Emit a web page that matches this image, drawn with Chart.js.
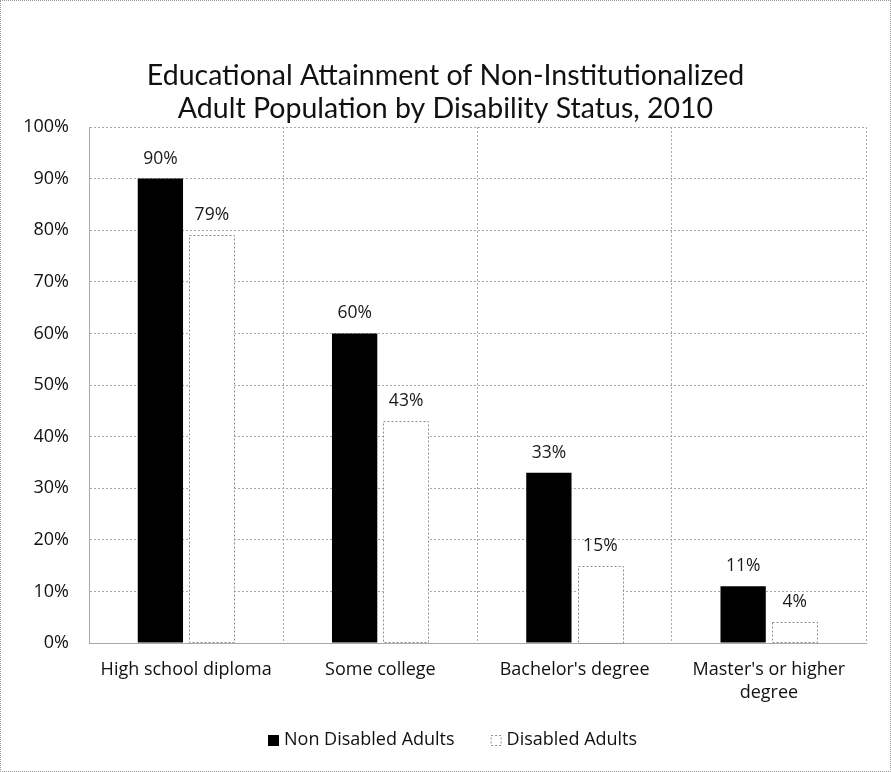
<!DOCTYPE html>
<html>
<head>
<meta charset="utf-8">
<script src="https://cdn.jsdelivr.net/npm/chart.js@4/dist/chart.umd.min.js"></script>
<style>
  html, body { margin: 0; padding: 0; background: #fff; }
  #wrap { position: relative; width: 891px; height: 772px; box-sizing: border-box; border: 1px dotted #9a9a9a; }
  canvas { display: block; }
</style>
</head>
<body>
<div id="wrap"><canvas id="c" width="889" height="770"></canvas></div>
<script>
// Educational attainment (percent of adults) by disability status, 2010
const titleLines = ['Educational Attainment of Non-Institutionalized', 'Adult Population by Disability Status, 2010'];
const categories = [
  'High school diploma',
  'Some college',
  "Bachelor's degree",
  ["Master's or higher", 'degree']
];
const seriesNames = ['Non Disabled Adults', 'Disabled Adults'];
const nonDisabled = [90, 60, 33, 11];
const disabled = [79, 43, 15, 4];
const yTicks = [0, 10, 20, 30, 40, 50, 60, 70, 80, 90, 100];

const TITLE_FONT = 'Lato, "Open Sans", sans-serif';
const FONT = '"Open Sans", Lato, sans-serif';
const GRID = '#a8a8a8';
const HOLLOW_EDGE = '#8c8c8c';

// Two-line heading centred across the whole canvas
const heading = {
  id: 'heading',
  afterDraw(chart) {
    const ctx = chart.ctx;
    ctx.save();
    ctx.fillStyle = '#111';
    ctx.font = '28.5px ' + TITLE_FONT;
    ctx.textAlign = 'center';
    ctx.textBaseline = 'middle';
    titleLines.forEach((t, i) => ctx.fillText(t, chart.width / 2, 75 + i * 33));
    ctx.restore();
  }
};

// Legend row under the axis labels, with wide spacing between the two entries
const legendRow = {
  id: 'legendRow',
  afterDraw(chart) {
    const ctx = chart.ctx;
    const box = 11, gap = 5, spacing = 36, cy = 739;
    ctx.save();
    ctx.font = '18px ' + FONT;
    ctx.textBaseline = 'middle';
    const widths = chart.data.datasets.map(ds => ctx.measureText(ds.label).width);
    const total = widths.reduce((a, w) => a + box + gap + w, 0) + spacing;
    let x = Math.round(452 - total / 2);
    chart.data.datasets.forEach((ds, i) => {
      const top = Math.round(cy - box / 2);
      if (i === 0) {
        ctx.fillStyle = ds.backgroundColor;
        ctx.fillRect(x, top, box, box);
      } else {
        ctx.fillStyle = '#fff';
        ctx.fillRect(x, top, box, box);
        ctx.strokeStyle = HOLLOW_EDGE;
        ctx.lineWidth = 1;
        ctx.setLineDash([2, 2]);
        ctx.strokeRect(x + 0.5, top + 0.5, box - 1, box - 1);
        ctx.setLineDash([]);
      }
      ctx.fillStyle = '#111';
      ctx.fillText(ds.label, x + box + gap, cy);
      x += box + gap + widths[i] + spacing;
    });
    ctx.restore();
  }
};

// Labels each bar with its value, and gives the hollow series a dotted outline
const barDecor = {
  id: 'barDecor',
  afterDatasetsDraw(chart) {
    const ctx = chart.ctx;
    ctx.save();
    const hollow = chart.getDatasetMeta(1);
    ctx.strokeStyle = HOLLOW_EDGE;
    ctx.lineWidth = 1;
    ctx.setLineDash([2, 2]);
    hollow.data.forEach(el => {
      const x = Math.round(el.x - el.width / 2) + 0.5;
      const y = Math.round(el.y) + 0.5;
      ctx.strokeRect(x, y, Math.round(el.width), Math.round(el.base - el.y));
    });
    ctx.setLineDash([]);
    ctx.fillStyle = '#1a1a1a';
    ctx.font = '17.5px ' + FONT;
    ctx.textAlign = 'center';
    ctx.textBaseline = 'middle';
    chart.data.datasets.forEach((ds, i) => {
      chart.getDatasetMeta(i).data.forEach((el, j) => {
        ctx.fillText(ds.data[j] + '%', el.x, el.y - 20);
      });
    });
    ctx.restore();
  }
};

new Chart(document.getElementById('c'), {
  type: 'bar',
  data: {
    labels: categories,
    datasets: [
      {
        label: seriesNames[0],
        data: nonDisabled,
        backgroundColor: '#000000',
        borderWidth: 0,
        categoryPercentage: 0.53,
        barPercentage: 0.88
      },
      {
        label: seriesNames[1],
        data: disabled,
        backgroundColor: '#ffffff',
        borderWidth: 0,
        categoryPercentage: 0.53,
        barPercentage: 0.88
      }
    ]
  },
  options: {
    responsive: false,
    animation: false,
    layout: { padding: { left: 0, right: 24, top: 126, bottom: 50 } },
    plugins: {
      title: { display: false },
      legend: { display: false },
      tooltip: { enabled: false }
    },
    scales: {
      x: {
        grid: { color: GRID, lineWidth: 1, drawTicks: false, offset: true },
        border: { color: GRID, dash: [2, 2] },
        ticks: { color: '#111', font: { family: FONT, size: 18, lineHeight: 1.28 }, padding: 15, maxRotation: 0, autoSkip: false },
        afterFit(scale) { scale.height = 78; }
      },
      y: {
        min: 0,
        max: 100,
        afterBuildTicks(scale) { scale.ticks = yTicks.map(v => ({ value: v })); },
        grid: { color: GRID, lineWidth: 1, drawTicks: false },
        border: { color: GRID, dash: [2, 2] },
        ticks: { color: '#111', font: { family: FONT, size: 18 }, padding: 20, callback: v => v + '%' },
        afterFit(scale) { scale.width = 88; }
      }
    }
  },
  plugins: [barDecor, heading, legendRow]
});
</script>
</body>
</html>
